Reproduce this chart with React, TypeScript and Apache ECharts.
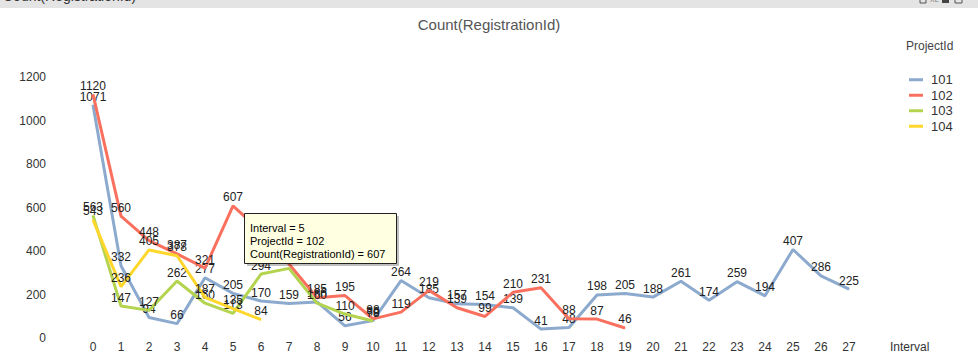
import React, { useEffect, useRef } from "react";
import * as echarts from "echarts";

const categories = ["0","1","2","3","4","5","6","7","8","9","10","11","12","13","14","15","16","17","18","19","20","21","22","23","24","25","26","27"];
const seriesNames = ["101", "102", "103", "104"];
const values101 = [1071, 332, 94, 66, 277, 205, 170, 159, 166, 56, 80, 264, 185, 157, 154, 139, 41, 48, 198, 205, 188, 261, 174, 259, 194, 407, 286, 225];
const values102 = [1120, 560, 448, 387, 321, 607, 490, 340, 185, 195, 88, 119, 219, 139, 99, 210, 231, 88, 87, 46];
const values103 = [563, 147, 127, 262, 160, 113, 294, 320, 160, 110, 78];
const values104 = [543, 236, 405, 378, 187, 135, 84];
const yTicks = [0, 200, 400, 600, 800, 1000, 1200];
const colors = ["#8CA9CE", "#F9705F", "#B4D450", "#FFD72C"];
const tooltipLines = ["Interval = 5", "ProjectId = 102", "Count(RegistrationId) = 607"];

export default function App() {
  const ref = useRef<HTMLDivElement>(null);
  useEffect(() => {
    document.body.style.margin = "0";
    const chart = echarts.init(ref.current!, null, { renderer: "svg" });
    const all = [values101, values102, values103, values104];
    const font = "'Liberation Sans', Arial, sans-serif";
    chart.setOption({
      animation: false,
      backgroundColor: "#ffffff",
      textStyle: { fontFamily: font },
      title: {
        text: "Count(RegistrationId)",
        left: "center",
        top: 12,
        textStyle: { fontSize: 15, fontWeight: "normal", color: "#555555", fontFamily: font },
      },
      legend: {
        orient: "vertical",
        left: 904,
        top: 67,
        itemWidth: 14,
        itemHeight: 3,
        itemGap: 0,
        icon: "rect",
        data: seriesNames,
        textStyle: { fontSize: 13, color: "#333333", lineHeight: 15.5, padding: [0, 0, 0, 3] },
      },
      grid: { left: 79, right: 115, top: 77, bottom: 18, containLabel: false },
      xAxis: {
        type: "category",
        data: categories,
        boundaryGap: true,
        axisLine: { show: false },
        axisTick: { show: false },
        axisLabel: { color: "#333333", fontSize: 12, margin: 3, verticalAlign: "top", interval: 0 },
        name: "Interval",
        nameLocation: "end",
        nameGap: 27,
        nameTextStyle: { color: "#333333", fontSize: 12, verticalAlign: "top", padding: [3, 0, 0, 0], align: "left" },
      },
      yAxis: {
        type: "value",
        min: yTicks[0],
        max: yTicks[yTicks.length - 1],
        interval: 200,
        splitLine: { show: false },
        axisLine: { show: false },
        axisTick: { show: false },
        axisLabel: { color: "#333333", fontSize: 12, margin: 33, formatter: (v: number) => String(v) },
      },
      series: seriesNames.map((name, i) => ({
        name,
        type: "line",
        data: all[i],
        color: colors[i],
        symbol: "circle",
        symbolSize: 1,
        showSymbol: true,
        lineStyle: { width: 3, color: colors[i] },
        itemStyle: { color: colors[i] },
        label: {
          show: true,
          position: "top",
          distance: 2,
          color: "#222222",
          fontSize: 12,
          fontFamily: font,
        },
        z: 2 + i,
      })),
      graphic: [
        { type: "rect", shape: { x: 0, y: 0, width: 978, height: 8 }, style: { fill: "#e4e4e4" }, z: 100 },
        { type: "text", x: 3, y: -4, style: { text: "Count(RegistrationId)", fontSize: 14, fontFamily: font, fill: "#333333", verticalAlign: "middle" }, z: 101 },
        { type: "rect", shape: { x: 920, y: -3, width: 6, height: 6 }, style: { fill: "none", stroke: "#555555", lineWidth: 1 }, z: 101 },
        { type: "text", x: 930, y: -1, style: { text: "XL", fontSize: 7, fill: "#777777", verticalAlign: "middle" }, z: 101 },
        { type: "rect", shape: { x: 942, y: -3, width: 7, height: 6 }, style: { fill: "#444444" }, z: 101 },
        { type: "rect", shape: { x: 955, y: -3, width: 7, height: 6 }, style: { fill: "none", stroke: "#555555", lineWidth: 1 }, z: 101 },
        { type: "text", x: 906, y: 46, style: { text: "ProjectId", fontSize: 12, fontFamily: font, fill: "#444444", verticalAlign: "middle" }, z: 101 },
        { type: "rect", shape: { x: 247, y: 216, width: 152, height: 50 }, style: { fill: "rgba(0,0,0,0.25)" }, z: 110 },
        { type: "rect", shape: { x: 244.5, y: 213.5, width: 152, height: 50 }, style: { fill: "#FFFFE1", stroke: "#222222", lineWidth: 1 }, z: 111 },
        ...tooltipLines.map((t, k) => ({
          type: "text",
          x: 250,
          y: 228 + k * 13,
          style: { text: t, fontSize: 11, fontFamily: font, fill: "#000000", verticalAlign: "middle" },
          z: 112,
        })),
      ],
    });
    return () => chart.dispose();
  }, []);
  return <div ref={ref} style={{ position: "absolute", left: 0, top: 0, width: 978, height: 356 }} />;
}
